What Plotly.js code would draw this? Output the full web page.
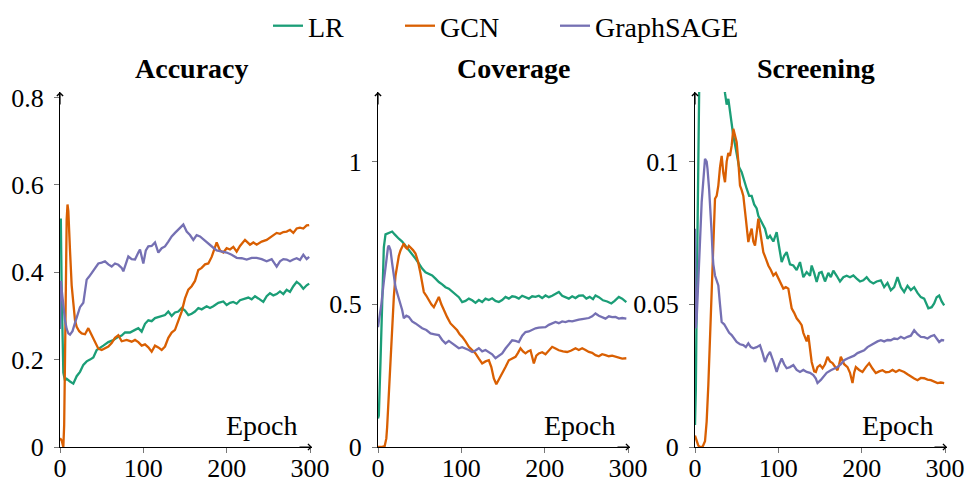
<!DOCTYPE html>
<html>
<head>
<meta charset="utf-8">
<script src="https://cdn.plot.ly/plotly-3.0.1.min.js"></script>
<style>
html,body{margin:0;padding:0;background:#fff}
#chart{width:968px;height:482px}
</style>
</head>
<body>
<div id="chart"></div>
<script>
// ---------- data ----------
const seriesNames = ["LR", "GCN", "GraphSAGE"];
const panelTitles = ["Accuracy", "Coverage", "Screening"];
const xLabel = "Epoch";
const yTicks1 = [0, 0.2, 0.4, 0.6, 0.8];
const yTickText1 = ["0", "0.2", "0.4", "0.6", "0.8"];
const yTicks2 = [0, 0.5, 1];
const yTickText2 = ["0", "0.5", "1"];
const yTicks3 = [0, 0.05, 0.1];
const yTickText3 = ["0", "0.05", "0.1"];
const xTicks = [0, 100, 200, 300];

// Accuracy
const accLR_x = [0,1,2,4,6,8,12,16,20,24,28,32,36,40,44,48,52,58,64,70,74,78,84,90,94,98,102,106,110,114,120,126,130,134,138,142,146,150,154,158,162,166,170,176,180,184,190,196,200,204,208,212,216,220,226,230,234,238,244,248,252,256,260,264,268,272,276,280,284,288,292,296,299];
const accLR_y = [0.52,0.52,0.36,0.17,0.152,0.156,0.15,0.145,0.162,0.172,0.188,0.196,0.2,0.205,0.222,0.228,0.232,0.24,0.245,0.252,0.255,0.262,0.262,0.268,0.272,0.264,0.282,0.29,0.288,0.295,0.298,0.302,0.31,0.3,0.308,0.31,0.318,0.312,0.302,0.305,0.31,0.318,0.315,0.322,0.318,0.322,0.33,0.333,0.325,0.33,0.332,0.328,0.336,0.338,0.342,0.338,0.345,0.34,0.332,0.345,0.352,0.347,0.35,0.356,0.35,0.36,0.355,0.368,0.378,0.372,0.362,0.37,0.374];
const accGCN_x = [0,2,4,5,6,7,8,9,10,12,14,16,18,20,23,26,30,34,38,42,46,50,54,58,62,66,70,74,80,86,90,94,98,102,106,110,114,118,122,126,130,134,138,142,146,150,154,158,162,166,170,174,178,182,186,188,192,196,200,204,208,212,216,222,228,232,236,242,248,254,260,264,268,272,276,280,284,288,292,296,299];
const accGCN_y = [0.02,0.015,0.0,0.05,0.2,0.4,0.52,0.555,0.54,0.45,0.37,0.33,0.29,0.275,0.265,0.26,0.258,0.272,0.255,0.238,0.225,0.222,0.226,0.23,0.238,0.25,0.256,0.242,0.245,0.241,0.245,0.24,0.232,0.235,0.228,0.218,0.232,0.228,0.222,0.23,0.25,0.262,0.268,0.29,0.31,0.34,0.36,0.368,0.38,0.405,0.41,0.418,0.42,0.435,0.455,0.468,0.45,0.445,0.455,0.452,0.458,0.447,0.46,0.474,0.463,0.468,0.463,0.47,0.474,0.482,0.49,0.488,0.492,0.493,0.497,0.49,0.5,0.502,0.5,0.507,0.508];
const accGS_x = [0,1,2,4,6,8,10,12,15,18,21,24,28,30,32,35,38,42,46,50,54,58,62,66,70,74,76,80,82,86,90,94,96,100,103,106,110,114,118,122,126,130,134,138,142,146,148,152,156,160,164,168,172,176,180,184,188,194,200,206,212,218,224,230,236,242,248,254,258,260,264,268,272,276,280,284,288,292,296,299];
const accGS_y = [0.27,0.38,0.36,0.32,0.29,0.27,0.26,0.257,0.265,0.284,0.305,0.32,0.33,0.36,0.383,0.39,0.398,0.408,0.42,0.422,0.425,0.418,0.413,0.42,0.417,0.41,0.402,0.425,0.436,0.43,0.429,0.445,0.452,0.42,0.45,0.459,0.46,0.468,0.445,0.455,0.459,0.47,0.482,0.49,0.497,0.505,0.509,0.493,0.485,0.474,0.485,0.482,0.475,0.468,0.462,0.456,0.45,0.447,0.445,0.44,0.433,0.432,0.429,0.433,0.433,0.43,0.425,0.43,0.418,0.413,0.425,0.43,0.429,0.425,0.429,0.432,0.428,0.44,0.43,0.435];

// Coverage
const covLR_x = [0,1,3,5,7,9,12,15,17,20,23,25,29,33,37,41,45,49,53,57,61,65,69,73,77,81,85,89,93,97,101,105,109,113,117,121,125,129,133,137,141,145,149,153,157,161,165,169,173,177,181,185,189,193,197,201,205,209,213,217,221,225,229,233,237,241,246,250,254,258,261,265,270,275,280,284,289,293,298];
const covLR_y = [0.1,0.11,0.3,0.55,0.7,0.745,0.748,0.752,0.755,0.745,0.735,0.73,0.72,0.706,0.69,0.678,0.66,0.643,0.625,0.612,0.605,0.601,0.59,0.578,0.57,0.56,0.555,0.545,0.538,0.525,0.508,0.512,0.52,0.514,0.505,0.515,0.508,0.52,0.515,0.521,0.512,0.508,0.515,0.526,0.52,0.528,0.526,0.52,0.53,0.526,0.52,0.528,0.526,0.53,0.522,0.531,0.525,0.53,0.538,0.543,0.53,0.525,0.52,0.528,0.522,0.53,0.531,0.52,0.526,0.518,0.531,0.525,0.514,0.51,0.503,0.512,0.526,0.52,0.508];
const covGCN_x = [0,4,8,10,11,13,15,17,19,21,23,25,27,29,31,33,35,37,39,42,45,48,51,53,55,58,61,64,67,70,73,76,79,83,87,91,95,98,101,105,109,113,117,121,125,129,133,136,139,142,145,149,153,157,161,165,168,171,174,177,180,183,187,190,193,197,201,205,209,213,217,222,227,232,237,241,245,249,253,257,261,265,269,273,277,281,285,289,293,298];
const covGCN_y = [0,0,0.003,0.03,0.071,0.18,0.328,0.44,0.526,0.6,0.643,0.67,0.689,0.7,0.713,0.7,0.695,0.705,0.7,0.69,0.678,0.65,0.608,0.575,0.543,0.53,0.514,0.5,0.49,0.51,0.526,0.5,0.479,0.455,0.433,0.42,0.409,0.395,0.386,0.37,0.351,0.34,0.328,0.31,0.293,0.3,0.304,0.28,0.24,0.22,0.235,0.258,0.28,0.304,0.31,0.316,0.33,0.346,0.335,0.328,0.335,0.339,0.293,0.32,0.328,0.332,0.325,0.34,0.351,0.345,0.339,0.335,0.333,0.338,0.346,0.34,0.346,0.34,0.333,0.33,0.322,0.318,0.325,0.322,0.318,0.32,0.316,0.314,0.31,0.311];
const covGS_x = [0,2,4,7,10,12,13,15,17,19,21,24,27,29,31,34,37,41,45,49,53,58,63,68,73,77,81,85,89,93,97,101,105,109,113,117,121,125,129,133,137,141,145,149,153,157,161,165,169,173,177,181,185,189,193,197,201,205,209,213,217,221,225,229,233,237,241,245,249,253,257,261,265,269,273,277,281,285,289,293,298];
const covGS_y = [0.42,0.46,0.5,0.58,0.66,0.7,0.706,0.69,0.643,0.6,0.56,0.53,0.503,0.48,0.451,0.46,0.456,0.44,0.433,0.425,0.416,0.41,0.398,0.395,0.392,0.375,0.363,0.372,0.363,0.355,0.346,0.35,0.346,0.34,0.333,0.338,0.346,0.335,0.34,0.333,0.325,0.311,0.32,0.328,0.345,0.36,0.374,0.372,0.368,0.39,0.403,0.405,0.41,0.416,0.418,0.42,0.42,0.428,0.432,0.438,0.434,0.44,0.438,0.442,0.44,0.444,0.446,0.448,0.45,0.452,0.458,0.468,0.46,0.455,0.45,0.458,0.455,0.456,0.45,0.452,0.45];

// Screening
const scrLR_x = [0,1,2,3,4,5,6,10,15,20,25,30,34,36,38,40,42,44,46,48,50,53,56,59,62,65,68,71,74,76,78,81,84,87,90,94,98,101,104,107,110,114,118,122,126,130,134,138,140,143,146,149,152,156,160,163,166,170,174,178,182,186,190,194,198,202,206,210,214,218,223,227,231,235,239,243,247,251,255,259,263,267,271,275,280,284,287,290,293,296,299];
const scrLR_y = [0.0077,0.02,0.05,0.08,0.11,0.13,0.15,0.18,0.2,0.19,0.17,0.15,0.13,0.124,0.12,0.122,0.117,0.113,0.109,0.106,0.103,0.098,0.0963,0.093,0.0905,0.088,0.088,0.085,0.0836,0.081,0.08,0.078,0.0765,0.073,0.074,0.072,0.0753,0.07,0.0648,0.067,0.0683,0.064,0.0636,0.062,0.0648,0.0595,0.0613,0.06,0.0636,0.061,0.0578,0.061,0.0613,0.058,0.061,0.0595,0.0618,0.06,0.058,0.0595,0.06,0.0595,0.0601,0.059,0.058,0.0584,0.0595,0.058,0.0573,0.058,0.0584,0.056,0.0575,0.0549,0.056,0.0595,0.056,0.0543,0.0565,0.055,0.056,0.054,0.0525,0.052,0.0486,0.049,0.0503,0.0525,0.0531,0.051,0.0496];
const scrGCN_x = [0,2,4,6,9,12,14,16,18,20,22,24,26,28,30,32,34,36,38,40,42,44,46,48,50,52,54,56,58,61,64,66,68,70,72,74,76,79,82,85,88,91,94,97,100,103,106,109,112,114,116,119,122,125,128,130,132,134,136,138,140,143,145,147,150,153,156,159,162,165,168,171,173,175,179,183,186,189,191,193,197,201,205,209,213,217,221,225,229,233,237,241,245,251,255,259,263,267,271,275,279,283,287,291,295,299];
const scrGCN_y = [0.004,0.0025,0.0005,0,0,0.002,0.009,0.0217,0.038,0.0566,0.074,0.087,0.088,0.0916,0.098,0.102,0.096,0.0928,0.1,0.103,0.102,0.1056,0.1115,0.109,0.1068,0.1,0.0916,0.09,0.088,0.08,0.0718,0.0745,0.0765,0.072,0.0706,0.075,0.08,0.074,0.0683,0.066,0.0636,0.062,0.0601,0.061,0.059,0.057,0.0555,0.056,0.0555,0.052,0.0486,0.047,0.0451,0.044,0.0427,0.04,0.0381,0.037,0.0392,0.034,0.0298,0.0265,0.0263,0.028,0.0287,0.0276,0.029,0.0316,0.03,0.0294,0.028,0.0269,0.029,0.0316,0.029,0.028,0.026,0.0224,0.026,0.028,0.027,0.0263,0.028,0.0294,0.0275,0.0259,0.0265,0.0269,0.0262,0.0263,0.027,0.0263,0.027,0.0263,0.0255,0.0246,0.024,0.0234,0.0242,0.0241,0.0236,0.0234,0.023,0.0224,0.0226,0.0224];
const scrGS_x = [0,1,2,4,6,8,10,12,14,15,17,18,20,21,22,24,26,28,30,32,35,38,41,44,47,50,54,58,61,64,67,70,74,78,81,84,87,90,94,98,101,104,107,110,114,118,122,126,130,134,138,142,145,147,151,154,158,163,167,171,175,179,183,187,191,195,199,203,207,211,215,219,223,227,231,235,239,243,247,251,255,259,263,267,271,275,279,283,287,290,293,296,299];
const scrGS_y = [0.0765,0.0416,0.045,0.0566,0.072,0.0858,0.095,0.101,0.1,0.0975,0.09,0.0858,0.075,0.0683,0.064,0.0601,0.058,0.0566,0.05,0.0438,0.043,0.0416,0.04,0.0392,0.038,0.0368,0.036,0.0357,0.035,0.0363,0.035,0.0346,0.035,0.0357,0.033,0.0298,0.032,0.0333,0.03,0.0263,0.029,0.031,0.029,0.0276,0.028,0.0287,0.027,0.0263,0.027,0.0263,0.026,0.0252,0.024,0.0224,0.0235,0.0246,0.026,0.0269,0.0275,0.028,0.029,0.0304,0.031,0.0316,0.032,0.0329,0.0335,0.0339,0.035,0.0357,0.0362,0.037,0.0374,0.037,0.0375,0.0374,0.038,0.0378,0.0386,0.038,0.0386,0.039,0.0409,0.0395,0.0386,0.0385,0.038,0.0388,0.0392,0.038,0.0368,0.0375,0.0374];

// ---------- styling ----------
const colors = ["#1b9e77", "#d95f02", "#7570b3"];
const FONT = "Liberation Serif";
const FS_TICK = 26;   // tick labels
const FS_TEXT = 28;   // titles, legend, axis label
const W = 968, H = 482;
const px = v => v / W;           // pixel -> paper x
const py = v => (H - v) / H;     // pixel -> paper y

const panels = [
  {xs: [accLR_x, accGCN_x, accGS_x], ys: [accLR_y, accGCN_y, accGS_y], yt: yTicks1, ytt: yTickText1, ymax: 0.8124, dom: [60, 312], titleX: 192, epochR: 300},
  {xs: [covLR_x, covGCN_x, covGS_x], ys: [covLR_y, covGCN_y, covGS_y], yt: yTicks2, ytt: yTickText2, ymax: 1.244, dom: [378, 630], titleX: 514, epochR: 618},
  {xs: [scrLR_x, scrGCN_x, scrGS_x], ys: [scrLR_y, scrGCN_y, scrGS_y], yt: yTicks3, ytt: yTickText3, ymax: 0.1244, dom: [695, 947], titleX: 816, epochR: 936}
];
// left edge (px) of each legend entry
const legendLeft = [268, 400, 555];

const traces = [];
const layout = {
  width: W, height: H,
  margin: {l: 0, r: 0, t: 0, b: 0, autoexpand: false},
  paper_bgcolor: "#fff", plot_bgcolor: "rgba(0,0,0,0)",
  font: {family: FONT, size: FS_TICK, color: "#000"},
  showlegend: true,
  annotations: []
};
["legend", "legend2", "legend3"].forEach((lg, k) => {
  layout[lg] = {orientation: "h", x: px(legendLeft[k]), xanchor: "left", y: py(1), yanchor: "top",
    font: {family: FONT, size: FS_TEXT, color: "#000"}, bgcolor: "rgba(0,0,0,0)", borderwidth: 0};
});
panels.forEach((p, i) => {
  const ax = i === 0 ? "" : String(i + 1);
  for (let s = 0; s < 3; s++) {
    traces.push({
      type: "scatter", mode: "lines", x: p.xs[s], y: p.ys[s],
      xaxis: "x" + ax, yaxis: "y" + ax, name: seriesNames[s],
      showlegend: i === 0, legend: s === 0 ? "legend" : "legend" + (s + 1),
      line: {color: colors[s], width: 2.3}, hoverinfo: "skip"
    });
  }
  const common = {
    showgrid: false, zeroline: false, showline: true, linecolor: "#000", linewidth: 1.2,
    ticks: "outside", ticklen: 5, tickcolor: "#777", tickwidth: 1, automargin: false,
    tickfont: {family: FONT, size: FS_TICK, color: "#000"}, fixedrange: true, tickmode: "array"
  };
  layout["xaxis" + ax] = Object.assign({}, common, {
    domain: [px(p.dom[0]), px(p.dom[1])], range: [0, 302.4], anchor: "y" + ax,
    tickvals: xTicks, ticktext: xTicks.map(String), ticklabelstandoff: -7
  });
  layout["yaxis" + ax] = Object.assign({}, common, {
    domain: [py(447), py(92)], range: [0, p.ymax], anchor: "x" + ax,
    tickvals: p.yt, ticktext: p.ytt, ticklabelstandoff: 5
  });
  // axis arrow heads
  layout.annotations.push({xref: "x" + ax, yref: "y" + ax, x: 302.4, y: 0, ax: -14, ay: 0,
    showarrow: true, arrowhead: 4, arrowsize: 1, arrowwidth: 1.2, arrowcolor: "#000", text: ""});
  layout.annotations.push({xref: "x" + ax, yref: "y" + ax, x: 0, y: p.ymax, ax: 0, ay: 14,
    showarrow: true, arrowhead: 4, arrowsize: 1, arrowwidth: 1.2, arrowcolor: "#000", text: ""});
  // panel title
  layout.annotations.push({xref: "paper", yref: "paper", x: px(p.titleX), y: py(68),
    xanchor: "center", yanchor: "middle", showarrow: false,
    text: "<b>" + panelTitles[i] + "</b>", font: {family: FONT, size: FS_TEXT, color: "#000"}});
  // x axis label
  layout.annotations.push({xref: "paper", yref: "paper", x: px(p.epochR), y: py(425),
    xanchor: "right", yanchor: "middle", showarrow: false,
    text: xLabel, font: {family: FONT, size: FS_TEXT, color: "#000"}});
});

Plotly.newPlot("chart", traces, layout, {displayModeBar: false});
</script>
</body>
</html>
